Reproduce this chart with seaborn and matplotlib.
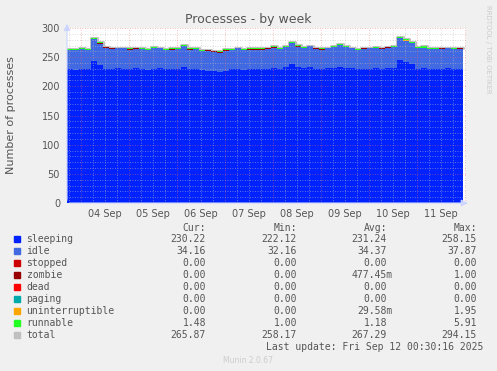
import numpy as np
import pandas as pd
import matplotlib
matplotlib.use("Agg")
import matplotlib.pyplot as plt
from matplotlib.patches import Rectangle
import seaborn as sns

# 3-hourly samples
times = pd.date_range("2025-09-03 17:00", periods=67, freq="3h")

sleeping = [
    229, 228, 230, 229, 243, 236, 230, 229, 231, 230,
    229, 231, 230, 228, 230, 231, 229, 230, 230, 234,
    229, 230, 228, 227, 226, 225, 227, 229, 230, 228,
    229, 230, 229, 230, 231, 230, 233, 238, 233, 232,
    234, 230, 229, 231, 232, 234, 232, 231, 229, 230,
    230, 231, 230, 231, 232, 246, 241, 238, 230, 231,
    230, 229, 230, 231, 230, 229, 230,
]
idle = [
    34, 35, 34, 34, 38, 37, 36, 35, 34, 35,
    34, 33, 34, 34, 35, 34, 34, 33, 34, 35,
    34, 34, 33, 34, 33, 33, 34, 34, 35, 34,
    34, 33, 34, 34, 35, 34, 35, 36, 35, 34,
    35, 34, 34, 34, 35, 37, 35, 34, 34, 34,
    35, 34, 34, 35, 35, 37, 37, 36, 35, 34,
    34, 35, 34, 34, 34, 35, 34,
]
stopped = [0] * 67
zombie = [
    0, 0, 0, 0, 0, 1, 1, 1, 0, 0,
    1, 1, 0, 0, 1, 0, 0, 1, 0, 0,
    1, 0, 0, 1, 1, 1, 1, 0, 0, 1,
    1, 1, 1, 1, 1, 0, 0, 0, 1, 0,
    0, 1, 1, 0, 0, 0, 1, 0, 0, 1,
    0, 1, 1, 1, 0, 0, 0, 1, 1, 1,
    0, 0, 1, 0, 0, 1, 0,
]
dead = [0] * 67
paging = [0] * 67
uninterruptible = [0] * 37 + [1] + [0] * 18 + [1] + [0] * 10
runnable = [
    1.2, 1.1, 1.0, 1.3, 1.5, 1.2, 1.1, 1.0, 1.2, 1.3,
    1.1, 1.0, 1.2, 1.4, 1.1, 1.0, 1.2, 1.1, 1.3, 1.5,
    1.0, 1.1, 1.2, 1.0, 1.1, 1.0, 1.2, 1.3, 1.1, 1.0,
    1.2, 1.1, 1.0, 1.2, 1.3, 1.1, 1.4, 1.6, 1.2, 1.1,
    1.0, 1.2, 1.1, 1.0, 1.3, 1.4, 1.2, 1.1, 1.0, 1.2,
    1.1, 1.0, 1.2, 1.1, 1.3, 1.5, 1.4, 1.2, 1.1, 3.5,
    1.2, 1.0, 1.1, 1.2, 1.0, 1.3, 1.5,
]

names = ["sleeping", "idle", "stopped", "zombie", "dead", "paging",
         "uninterruptible", "runnable", "total"]
colors = ["#0022ff", "#4169e1", "#cc0000", "#990000", "#ff0000", "#00aaaa",
          "#ffa500", "#22ff22", "#c0c0c0"]
cur = [230.22, 34.16, 0, 0, 0, 0, 0, 1.48, 265.87]
mins = [222.12, 32.16, 0, 0, 0, 0, 0, 1.00, 258.17]
avgs = [231.24, 34.37, 0, 0.47745, 0, 0, 0.02958, 1.18, 267.29]
maxs = [258.15, 37.87, 0, 1.00, 0, 0, 1.95, 5.91, 294.15]

W, H = 497, 371
sns.set_style("white")
fig = plt.figure(figsize=(W / 100, H / 100), dpi=100, facecolor="#f0f0f0")
ax = fig.add_axes([67 / W, 1 - 203 / H, (466 - 67) / W, (203 - 28) / H])
ax.set_facecolor("white")

layers = [sleeping, idle, stopped, zombie, dead, paging, uninterruptible, runnable]
base = np.zeros(len(times))
for vals, c in zip(layers, colors[:-1]):
    top = base + np.array(vals, dtype=float)
    ax.fill_between(times, base, top, step="post", color=c, lw=0, zorder=2)
    base = top
# total line sits behind the stack so only its upper edge shows
sns.lineplot(x=times, y=base, drawstyle="steps-post", color="#c0c0c0",
             lw=2.2, ax=ax, zorder=1)

start = pd.Timestamp("2025-09-03 17:00")
end = pd.Timestamp("2025-09-12 00:30")
ax.set_xlim(start, end)
ax.set_ylim(0, 300)

# rrd-like dotted grid drawn over the data
dot = (0, (1, 2))
for v in range(10, 300, 10):
    if v % 50:
        ax.axhline(v, color="#bbbbbb", lw=0.6, ls=dot, alpha=0.7, zorder=5)
for v in range(50, 301, 50):
    ax.axhline(v, color="#ee6666", lw=0.6, ls=dot, alpha=0.6, zorder=6)
for t in pd.date_range("2025-09-03 18:00", end, freq="6h"):
    if t.hour:
        ax.axvline(t, color="#bbbbbb", lw=0.6, ls=dot, alpha=0.7, zorder=5)
for t in pd.date_range("2025-09-04", end, freq="D"):
    ax.axvline(t, color="#ee6666", lw=0.6, ls=dot, alpha=0.6, zorder=6)

noons = pd.date_range("2025-09-04 12:00", periods=8, freq="D")
ax.set_xticks(noons)
ax.set_xticklabels([t.strftime("%d Sep") for t in noons])
ax.set_yticks(range(0, 301, 50))
ax.tick_params(axis="both", length=0, labelsize=7, labelcolor="#555555")
ax.tick_params(axis="y", pad=5)
ax.tick_params(axis="x", pad=4)
ax.set_xlabel("")
ax.set_ylabel("")
for s in ax.spines.values():
    s.set_visible(False)

# axis arrows
ax.annotate("", xy=(1.012, 0), xytext=(0, 0), xycoords="axes fraction",
            arrowprops=dict(arrowstyle="-|>", color="#ccd5ff", lw=0.8), zorder=7)
ax.annotate("", xy=(0, 1.04), xytext=(0, 0), xycoords="axes fraction",
            arrowprops=dict(arrowstyle="-|>", color="#ccd5ff", lw=0.8), zorder=7)

def fx(x):
    return x / W

def fy(y):
    return 1 - y / H

fig.text(fx(248), fy(19), "Processes - by week", ha="center", va="center",
         fontsize=9, color="#555555")
fig.text(fx(11), fy(115), "Number of processes", ha="center", va="center",
         rotation=90, fontsize=8, color="#555555")
fig.text(fx(488), fy(5), "RRDTOOL / TOBI OETIKER", ha="center", va="top",
         rotation=270, fontsize=5, color="#cccccc")

mono = "DejaVu Sans Mono"
txt = "#555555"
cols = [206, 297, 387, 477]
cw = 5.9

def fmt(v):
    if v != 0 and abs(v) < 1:
        return f"{v * 1000:.2f}m", cw
    return f"{v:.2f}", 0

for x, head in zip(cols, ["Cur:", "Min:", "Avg:", "Max:"]):
    fig.text(fx(x), fy(228), head, ha="right", va="center", fontsize=7,
             family=mono, color=txt)

for i, name in enumerate(names):
    y = 239.3 + 12 * i
    fig.patches.append(Rectangle((fx(14), fy(y + 3)), 6 / W, 6 / H,
                                 transform=fig.transFigure, color=colors[i]))
    fig.text(fx(26.5), fy(y), name, ha="left", va="center", fontsize=7,
             family=mono, color=txt)
    for x, vals in zip(cols, [cur, mins, avgs, maxs]):
        s, off = fmt(vals[i])
        fig.text(fx(x + off), fy(y), s, ha="right", va="center", fontsize=7,
                 family=mono, color=txt)

fig.text(fx(483), fy(347.3), "Last update: Fri Sep 12 00:30:16 2025",
         ha="right", va="center", fontsize=7, family=mono, color=txt)
fig.text(fx(248), fy(360.5), "Munin 2.0.67", ha="center", va="center",
         fontsize=5.5, color="#cccccc")

fig.savefig("out.png", dpi=100, facecolor=fig.get_facecolor())
